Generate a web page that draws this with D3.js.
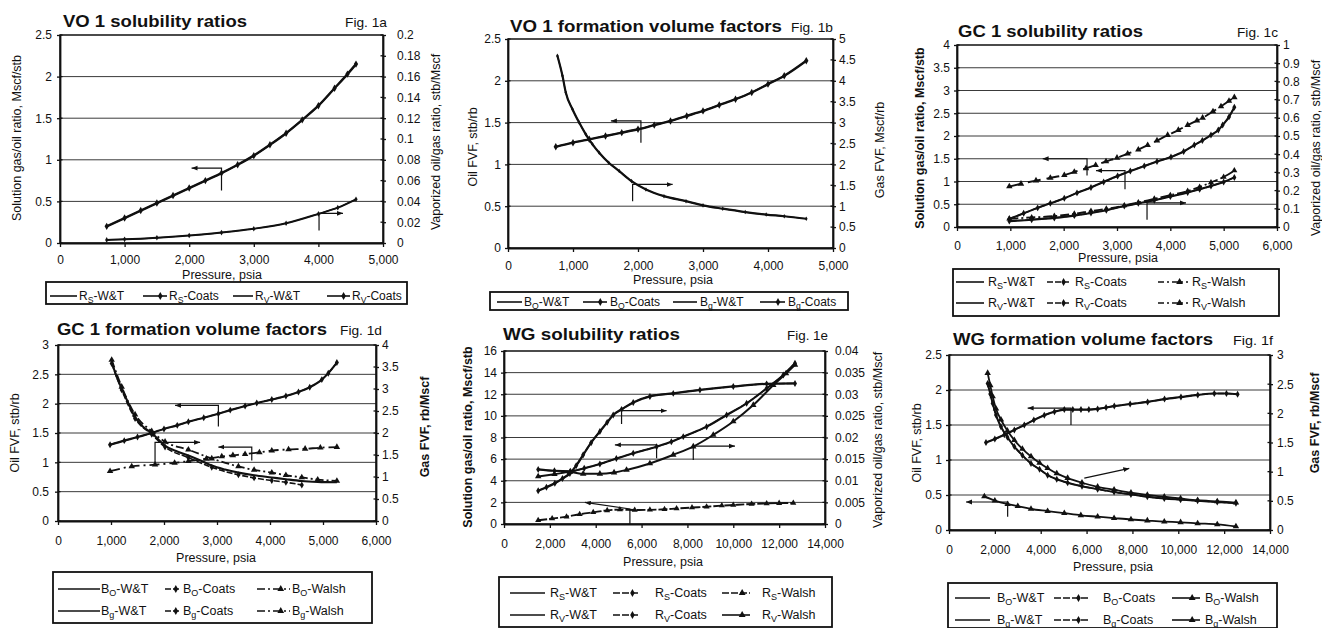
<!DOCTYPE html>
<html><head><meta charset="utf-8">
<script src="https://cdn.jsdelivr.net/npm/d3@7"></script>
<style>
body{margin:0;background:#fff}
svg{display:block}
text{font-family:"Liberation Sans",Arial,Helvetica,sans-serif;fill:#111}
</style></head>
<body><svg id="c" width="1322" height="628"></svg>
<script>
// ---------------- tick values ----------------
const xt5000 = [0,1000,2000,3000,4000,5000];
const xt6000 = [0,1000,2000,3000,4000,5000,6000];
const xt14000 = [0,2000,4000,6000,8000,10000,12000,14000];
const yt25 = [0,0.5,1,1.5,2,2.5];
const yt4 = [0,0.5,1,1.5,2,2.5,3,3.5,4];
const yt3 = [0,0.5,1,1.5,2,2.5,3];
const yt16 = [0,2,4,6,8,10,12,14,16];
const rt02 = [0,0.02,0.04,0.06,0.08,0.1,0.12,0.14,0.16,0.18,0.2];
const rt5 = [0,0.5,1,1.5,2,2.5,3,3.5,4,4.5,5];
const rt1 = [0,0.1,0.2,0.3,0.4,0.5,0.6,0.7,0.8,0.9,1];
const rt4 = [0,0.5,1,1.5,2,2.5,3,3.5,4];
const rt004 = [0,0.005,0.01,0.015,0.02,0.025,0.03,0.035,0.04];
const rt3 = [0,0.5,1,1.5,2,2.5,3];

// ---------------- Fig 1a: VO 1 solubility ratios ----------------
const a_P_Rs = [723,1000,1250,1500,1750,2000,2250,2500,2750,3000,3250,3500,3750,4000,4250,4450,4582];
const a_Rs   = [0.20,0.30,0.39,0.48,0.57,0.66,0.75,0.84,0.94,1.05,1.18,1.32,1.48,1.65,1.86,2.03,2.15];
const a_P_Rv = [723,1000,1500,2000,2500,3000,3500,4000,4300,4582];
const a_Rv   = [0.0030,0.0035,0.0050,0.0072,0.0100,0.0137,0.0190,0.0280,0.0340,0.0420];
const a_arrows = [[[2500,0.63],[2500,0.90],[2036,0.90]],[[4010,0.15],[4010,0.357],[4381,0.357]]];

// ---------------- Fig 1b: VO 1 formation volume factors ----------------
const b_P_Bo = [735,1000,1250,1500,1750,2000,2250,2500,2750,3000,3250,3500,3750,4000,4250,4589];
const b_Bo   = [1.21,1.26,1.30,1.34,1.38,1.42,1.47,1.52,1.58,1.64,1.71,1.78,1.86,1.96,2.06,2.24];
const b_P_Bg = [760,838,889,992,1095,1197,1300,1403,1550,1711,1900,2122,2400,2739,3000,3304,3650,3972,4250,4589];
const b_Bg   = [4.60,4.12,3.72,3.32,3.00,2.72,2.48,2.28,2.04,1.84,1.60,1.40,1.24,1.12,1.02,0.94,0.86,0.80,0.76,0.70];
const b_arrows = [[[2045,1.26],[2045,1.52],[1583,1.52]],[[1917,0.56],[1917,0.76],[2533,0.76]]];

// ---------------- Fig 1c: GC 1 solubility ratios ----------------
const c_P_RsWalsh = [981,1200,1481,1750,2012,2200,2419,2600,2794,3000,3200,3400,3575,3750,3950,4150,4325,4500,4606,4800,4950,5100,5200];
const c_RsWalsh   = [0.89,0.95,1.02,1.08,1.14,1.21,1.29,1.36,1.44,1.52,1.61,1.70,1.80,1.90,2.02,2.13,2.24,2.34,2.40,2.54,2.65,2.77,2.85];
const c_P_Rs = [981,1250,1512,1750,2012,2250,2512,2750,3012,3250,3512,3750,4012,4250,4450,4600,4762,4900,4981,5100,5200];
const c_Rs   = [0.18,0.30,0.42,0.52,0.63,0.75,0.87,0.99,1.12,1.23,1.34,1.44,1.54,1.66,1.80,1.90,2.02,2.13,2.24,2.42,2.63];
const c_P_Rv = [981,1400,1825,2200,2512,2800,3137,3400,3700,4000,4325,4550,4762,5000,5200];
const c_RvWalsh = [0.045,0.0525,0.06,0.0725,0.0875,0.10,0.1175,0.135,0.155,0.175,0.1975,0.22,0.245,0.275,0.31];
const c_Rv      = [0.0325,0.04,0.05,0.0625,0.0775,0.0925,0.115,0.13,0.1475,0.1675,0.19,0.2075,0.225,0.2475,0.2725];
const c_arrows = [[[2438,1.13],[2438,1.50],[1606,1.50]],[[3150,0.83],[3150,1.24],[2606,1.24]],[[3563,0.16],[3563,0.53],[4294,0.53]]];

// ---------------- Fig 1d: GC 1 formation volume factors ----------------
const d_P_Bo = [982,1250,1500,1768,2000,2250,2460,2750,3026,3250,3530,3750,4034,4300,4537,4750,4978,5100,5262];
const d_Bo   = [1.30,1.37,1.43,1.50,1.57,1.63,1.69,1.76,1.83,1.89,1.96,2.01,2.07,2.13,2.20,2.28,2.41,2.52,2.70];
const d_P_BoWalsh = [982,1391,1831,2200,2460,2800,3090,3300,3530,3800,4034,4350,4663,4950,5262];
const d_BoWalsh   = [0.85,0.93,0.96,0.99,1.02,1.06,1.10,1.12,1.14,1.17,1.20,1.22,1.23,1.25,1.26];
const d_P_Bg = [1013,1100,1202,1300,1454,1600,1768,2020,2250,2460,2700,2901,3150,3404,3700,4034,4300,4600,4900,5262];
const d_Bg   = [3.62,3.30,3.01,2.75,2.36,2.15,2.00,1.71,1.58,1.49,1.37,1.26,1.17,1.10,1.04,0.99,0.95,0.91,0.89,0.88];
const d_P_BgCoats = [1013,1202,1454,1768,2020,2460,2901,3404,3700,4034,4300,4600];
const d_BgCoats   = [3.58,2.98,2.33,1.97,1.68,1.44,1.22,1.05,0.98,0.92,0.88,0.82];
const d_P_BgWalsh = [1013,1202,1454,1768,2020,2460,2901,3404,3700,4034,4300,4600,4900,5262];
const d_BgWalsh   = [3.66,3.05,2.42,2.04,1.80,1.62,1.42,1.24,1.16,1.10,1.04,0.99,0.94,0.91];
const d_arrows = [[[3026,1.61],[3026,1.97],[2209,1.97]],[[1831,1.0],[1831,1.34],[2681,1.34]],[[3656,1.03],[3656,1.26],[3026,1.26]]];

// ---------------- Fig 1e: WG solubility ratios ----------------
const e_P_Rs = [1491,2200,2900,3500,4182,4900,5636,6655,7300,7818,8836,9709,10582,11455,12182,12691];
const e_Rs   = [5.05,4.92,4.88,5.15,5.55,6.05,6.54,7.15,7.60,8.08,9.00,10.08,11.16,12.55,13.78,14.86];
const e_P_RsWalsh = [1491,2100,2727,3300,3891,4500,5055,5700,6364,7000,7527,8200,8836,9500,10000,10800,11455,12000,12618];
const e_RsWalsh   = [0.35,0.50,0.68,0.90,1.08,1.26,1.33,1.30,1.31,1.36,1.43,1.52,1.60,1.70,1.76,1.85,1.90,1.93,1.95];
const e_P_Rv = [1491,1850,2218,2550,2873,3150,3455,3800,4182,4500,4764,5127,5636,6364,7382,8545,10000,11455,12691];
const e_Rv   = [0.0077,0.0085,0.0094,0.0105,0.0117,0.0135,0.0160,0.0188,0.0214,0.0235,0.0252,0.0265,0.0281,0.0295,0.0302,0.0310,0.0318,0.0324,0.0325];
const e_P_RvWalsh = [1491,2200,2873,3455,4182,4800,5345,6364,7382,8255,9127,10000,10873,11745,12300,12691];
const e_RvWalsh   = [0.0110,0.0115,0.0120,0.0116,0.0116,0.0119,0.0125,0.0140,0.0160,0.0179,0.0206,0.0237,0.0275,0.0321,0.0348,0.0368];
const e_arrows = [[[5127,9.25],[5127,10.48],[7091,10.48]],[[6655,6.07],[6655,7.31],[4836,7.31]],[[8255,5.92],[8255,7.21],[10073,7.21]],[[5491,0],[5491,1.39],[3527,2.0]]];

// ---------------- Fig 1f: WG formation volume factors ----------------
const f_P_Bo = [1613,2000,2413,2850,3285,3700,4157,4600,5029,5400,5756,6100,6483,6850,7209,7900,8663,9400,10116,10850,11570,12100,12587];
const f_Bo   = [1.25,1.30,1.36,1.43,1.50,1.57,1.64,1.69,1.72,1.72,1.72,1.72,1.73,1.75,1.77,1.80,1.83,1.87,1.90,1.93,1.95,1.95,1.94];
const f_P_BoWalsh = [1541,2000,2558,3000,3576,4300,5029,5750,6483,7200,7936,8650,9390,10100,10843,11700,12514];
const f_BoWalsh   = [0.48,0.42,0.37,0.34,0.30,0.27,0.24,0.21,0.19,0.17,0.15,0.135,0.12,0.11,0.095,0.08,0.05];
const f_P_Bg = [1686,1800,1904,2050,2267,2550,2849,3200,3576,3950,4302,4700,5174,5800,6483,7200,7936,8650,9390,10100,10843,11700,12514];
const f_BgWalsh = [2.69,2.48,2.29,2.08,1.89,1.70,1.54,1.39,1.26,1.15,1.06,0.97,0.89,0.81,0.74,0.69,0.64,0.60,0.57,0.54,0.51,0.49,0.47];
const f_Bg      = [2.51,2.33,2.17,1.97,1.77,1.59,1.43,1.28,1.14,1.04,0.94,0.87,0.81,0.75,0.70,0.65,0.61,0.57,0.54,0.52,0.50,0.48,0.46];
const f_arrows = [[[5320,1.50],[5320,1.74],[3430,1.74]],[[5901,0.74],[7863,0.88]],[[2558,0.19],[2558,0.40],[741,0.40]]];

// ---------------- panel layout ----------------
const panels = [
 {title:'VO 1 solubility ratios', tx:63, ty:27, tw:184, fig:'Fig. 1a', fx:345, fy:27, fw:42,
  L:60,R:383,T:35,B:243, xMax:5000, xT:xt5000, yLMax:2.5, yLT:yt25, yRMax:0.2, yRT:rt02, xPad:8, lPad:5, rPad:11,
  xTitle:[222,279], lTitle:['Solution gas/oil ratio, Mscf/stb',17,138,false], rTitle:['Vaporized oil/gas ratio, stb/Mscf',436,142,false],
  series:[
   {p:a_P_Rs,v:a_Rs,ax:'L',w:2.4},
   {p:a_P_Rs,v:a_Rs,ax:'L',w:1.4,mk:'dia',ms:16},
   {p:a_P_Rv,v:a_Rv,ax:'R',w:2.0},
   {p:a_P_Rv,v:a_Rv,ax:'R',w:1.2,mk:'dia',ms:9}],
  arrows:a_arrows,
  box:[46,282,407,304], rows:[296], lfs:12,
  leg:[[50,77,79,0,'R','S','-W&T',null,null],[143,167,169,0,'R','S','-Coats',null,'dia'],
       [233,253,255,0,'R','V','-W&T',null,null],[327,350,352,0,'R','V','-Coats',null,'dia']]},
 {title:'VO 1 formation volume factors', tx:510, ty:32, tw:272, fig:'Fig. 1b', fx:791, fy:32, fw:42,
  L:508,R:833,T:39,B:248, xMax:5000, xT:xt5000, yLMax:2.5, yLT:yt25, yRMax:5, yRT:rt5, xPad:9, lPad:4, rPad:3,
  xTitle:[673,284], lTitle:['Oil FVF, stb/rb',473,147,false], rTitle:['Gas FVF, Mscf/rb',880,150,false],
  series:[
   {p:b_P_Bo,v:b_Bo,ax:'L',w:2.4},
   {p:b_P_Bo,v:b_Bo,ax:'L',w:1.4,mk:'dia',ms:16},
   {p:b_P_Bg,v:b_Bg,ax:'R',w:2.2},
   {p:b_P_Bg,v:b_Bg,ax:'R',w:1.2,mk:'dia',ms:6}],
  arrows:b_arrows,
  box:[490,292,848,310], rows:[302], lfs:12,
  leg:[[497,522,524,0,'B','O','-W&T',null,null],[583,607,610,0,'B','O','-Coats',null,'dia'],
       [673,697,700,0,'B','g','-W&T',null,null],[760,785,788,0,'B','g','-Coats',null,'dia']]},
 {title:'GC 1 solubility ratios', tx:958, ty:37, tw:185, fig:'Fig. 1c', fx:1237, fy:37, fw:41,
  L:957,R:1277,T:45,B:227, xMax:6000, xT:xt6000, yLMax:4, yLT:yt4, yRMax:1, yRT:rt1, xPad:10, lPad:4, rPad:3,
  xTitle:[1118,262], lTitle:['Solution gas/oil ratio, Mscf/stb',920,138,true], rTitle:['Vaporized oil/gas ratio, stb/Mscf',1316,148,false],
  series:[
   {p:c_P_RsWalsh,v:c_RsWalsh,ax:'L',w:1.9,dash:'13,6',mk:'tri',ms:18},
   {p:c_P_Rs,v:c_Rs,ax:'L',w:2.1},
   {p:c_P_Rs,v:c_Rs,ax:'L',w:1.4,dash:'6,2',mk:'dia',ms:14},
   {p:c_P_Rv,v:c_RvWalsh,ax:'R',w:1.8,dash:'9,3,2,3',mk:'tri',ms:16},
   {p:c_P_Rv,v:c_Rv,ax:'R',w:2.1},
   {p:c_P_Rv,v:c_Rv,ax:'R',w:1.4,dash:'6,2',mk:'dia',ms:14}],
  arrows:c_arrows,
  box:[953,269,1279,316], rows:[282,303], lfs:12.5,
  leg:[[956,984,988,0,'R','S','-W&T',null,null],[1047,1070,1075,0,'R','S','-Coats','6,2','dia'],[1158,1188,1192,0,'R','S','-Walsh','6,3,2,3','tri'],
       [956,984,988,1,'R','V','-W&T',null,null],[1047,1070,1075,1,'R','V','-Coats','6,2','dia'],[1158,1188,1192,1,'R','V','-Walsh','6,3,2,3','tri']]},
 {title:'GC 1 formation volume factors', tx:57, ty:335, tw:270, fig:'Fig. 1d', fx:340, fy:335, fw:42,
  L:58,R:376,T:345,B:521, xMax:6000, xT:xt6000, yLMax:3, yLT:yt3, yRMax:4, yRT:rt4, xPad:11, lPad:6, rPad:3,
  xTitle:[216,562], lTitle:['Oil FVF, stb/rb',15,433,false], rTitle:['Gas FVF, rb/Mscf',425,427,true],
  series:[
   {p:d_P_Bo,v:d_Bo,ax:'L',w:2.1},
   {p:d_P_Bo,v:d_Bo,ax:'L',w:1.4,dash:'6,2',mk:'dia',ms:14},
   {p:d_P_BoWalsh,v:d_BoWalsh,ax:'L',w:1.8,dash:'10,4,2,4',mk:'tri',ms:18},
   {p:d_P_Bg,v:d_Bg,ax:'R',w:2.1},
   {p:d_P_BgCoats,v:d_BgCoats,ax:'R',w:1.6,dash:'6,2',mk:'dia',ms:14},
   {p:d_P_BgWalsh,v:d_BgWalsh,ax:'R',w:1.8,dash:'8,3,2,3',mk:'tri',ms:18}],
  arrows:d_arrows,
  box:[53,572,372,623], rows:[589,611], lfs:12.5,
  leg:[[58,100,101,0,'B','O','-W&T',null,null],[165,180,183,0,'B','O','-Coats','6,2','dia'],[257,290,292,0,'B','O','-Walsh','8,3,2,3','tri'],
       [58,100,101,1,'B','g','-W&T',null,null],[165,180,183,1,'B','g','-Coats','6,2','dia'],[257,290,292,1,'B','g','-Walsh','8,3,2,3','tri']]},
 {title:'WG solubility ratios', tx:503, ty:340, tw:177, fig:'Fig. 1e', fx:787, fy:340, fw:41,
  L:504,R:825,T:351,B:524, xMax:14000, xT:xt14000, yLMax:16, yLT:yt16, yRMax:0.04, yRT:rt004, xPad:11, lPad:4, rPad:7,
  xTitle:[663,566], lTitle:['Solution gas/oil ratio, Mscf/stb',468,437,true], rTitle:['Vaporized oil/gas ratio, stb/Mscf',878,440,false],
  series:[
   {p:e_P_Rs,v:e_Rs,ax:'L',w:2.1},
   {p:e_P_Rs,v:e_Rs,ax:'L',w:1.4,dash:'6,2',mk:'dia',ms:14},
   {p:e_P_RsWalsh,v:e_RsWalsh,ax:'L',w:1.9,dash:'9,2',mk:'tri',ms:16},
   {p:e_P_Rv,v:e_Rv,ax:'R',w:2.3},
   {p:e_P_Rv,v:e_Rv,ax:'R',w:1.4,dash:'6,2',mk:'dia',ms:14},
   {p:e_P_RvWalsh,v:e_RvWalsh,ax:'R',w:2.0,mk:'tri',ms:18}],
  arrows:e_arrows,
  box:[499,577,832,627], rows:[593,615], lfs:12.5,
  leg:[[510,545,550,0,'R','S','-W&T',null,null],[613,640,655,0,'R','S','-Coats','7,2','dia'],[722,750,762,0,'R','S','-Walsh','7,2','tri'],
       [510,545,550,1,'R','V','-W&T',null,null],[613,640,655,1,'R','V','-Coats','7,2','dia'],[722,750,762,1,'R','V','-Walsh',null,'tri']]},
 {title:'WG formation volume factors', tx:953, ty:345, tw:260, fig:'Fig. 1f', fx:1233, fy:345, fw:40,
  L:949,R:1270,T:355,B:530, xMax:14000, xT:xt14000, yLMax:2.5, yLT:yt25, yRMax:3, yRT:rt3, xPad:11, lPad:4, rPad:4,
  xTitle:[1113,571], lTitle:['Oil FVF, stb/rb',917,443,false], rTitle:['Gas FVF, rb/Mscf',1315,423,true],
  series:[
   {p:f_P_Bo,v:f_Bo,ax:'L',w:2.1},
   {p:f_P_Bo,v:f_Bo,ax:'L',w:1.4,dash:'6,2',mk:'dia',ms:14},
   {p:f_P_BoWalsh,v:f_BoWalsh,ax:'L',w:1.8,mk:'tri',ms:18},
   {p:f_P_Bg,v:f_Bg,ax:'R',w:1.9},
   {p:f_P_Bg,v:f_Bg,ax:'R',w:1.4,dash:'6,2',mk:'dia',ms:14},
   {p:f_P_Bg,v:f_BgWalsh,ax:'R',w:1.8,mk:'tri',ms:18}],
  arrows:f_arrows,
  box:[948,583,1277,628], rows:[598,620], lfs:12.5,
  leg:[[955,990,997,0,'B','O','-W&T',null,null],[1054,1088,1103,0,'B','O','-Coats','7,2','dia'],[1172,1200,1205,0,'B','O','-Walsh',null,'tri'],
       [955,990,997,1,'B','g','-W&T',null,null],[1054,1088,1103,1,'B','g','-Coats','7,2','dia'],[1172,1200,1205,1,'B','g','-Walsh',null,'tri']]}
];

// ---------------- drawing ----------------
const svg = d3.select('#c');
svg.append('rect').attr('width',1322).attr('height',628).attr('fill','#fff');
const defs = svg.append('defs');
defs.append('marker').attr('id','ah').attr('viewBox','0 0 10 10').attr('refX',10).attr('refY',5)
  .attr('markerWidth',6).attr('markerHeight',6).attr('markerUnits','userSpaceOnUse').attr('orient','auto')
  .append('path').attr('d','M0,1 L10,5 L0,9 Z').attr('fill','#111');

const symType = {dia:d3.symbolDiamond, tri:d3.symbolTriangle};
const TICK_FS = 12;

panels.forEach(P => {
  const g = svg.append('g');
  const x = d3.scaleLinear().domain([0,P.xMax]).range([P.L,P.R]);
  const yL = d3.scaleLinear().domain([0,P.yLMax]).range([P.B,P.T]);
  const yR = d3.scaleLinear().domain([0,P.yRMax]).range([P.B,P.T]);

  g.selectAll('line.grid').data(P.yLT.filter(v => v>0 && v<P.yLMax)).join('line')
    .attr('x1',P.L).attr('x2',P.R).attr('y1',d=>yL(d)).attr('y2',d=>yL(d))
    .attr('stroke','#3a3a3a').attr('stroke-width',1);
  g.append('rect').attr('x',P.L).attr('y',P.T).attr('width',P.R-P.L).attr('height',P.B-P.T)
    .attr('fill','none').attr('stroke','#111').attr('stroke-width',1.5);

  const styleAxis = a => {
    a.select('.domain').attr('stroke','#111').attr('stroke-width',1.8);
    a.selectAll('.tick line').attr('stroke','#111').attr('stroke-width',1.3);
    a.selectAll('.tick text').attr('font-size',TICK_FS).attr('fill','#111')
      .attr('font-family','"Liberation Sans",Arial,sans-serif');
  };
  const fmt = d => String(d);
  styleAxis(g.append('g').attr('transform',`translate(0,${P.B})`)
    .call(d3.axisBottom(x).tickValues(P.xT).tickFormat(d3.format(',')).tickSizeInner(4).tickSizeOuter(0).tickPadding(P.xPad)));
  styleAxis(g.append('g').attr('transform',`translate(${P.L},0)`)
    .call(d3.axisLeft(yL).tickValues(P.yLT).tickFormat(fmt).tickSizeInner(3).tickSizeOuter(0).tickPadding(P.lPad)));
  styleAxis(g.append('g').attr('transform',`translate(${P.R},0)`)
    .call(d3.axisRight(yR).tickValues(P.yRT).tickFormat(fmt).tickSizeInner(3).tickSizeOuter(0).tickPadding(P.rPad)));
  g.selectAll('line.il').data(P.yLT).join('line').attr('x1',P.L).attr('x2',P.L+2.5)
    .attr('y1',d=>yL(d)).attr('y2',d=>yL(d)).attr('stroke','#111').attr('stroke-width',1.3);
  g.selectAll('line.ir').data(P.yRT).join('line').attr('x1',P.R-2.5).attr('x2',P.R)
    .attr('y1',d=>yR(d)).attr('y2',d=>yR(d)).attr('stroke','#111').attr('stroke-width',1.3);

  P.series.forEach(s => {
    const yy = s.ax==='L' ? yL : yR;
    const pts = d3.zip(s.p, s.v);
    const line = d3.line().x(d=>x(d[0])).y(d=>yy(d[1])).curve(d3.curveMonotoneX);
    const path = g.append('path').attr('d',line(pts)).attr('fill','none')
      .attr('stroke','#111').attr('stroke-width',s.w).attr('stroke-linejoin','round');
    if (s.dash) path.attr('stroke-dasharray',s.dash);
    if (s.mk) {
      const sym = d3.symbol().type(symType[s.mk]).size(s.ms);
      g.selectAll(null).data(pts).join('path').attr('d',sym())
        .attr('transform',d=>`translate(${x(d[0])},${yy(d[1])})`).attr('fill','#111');
    }
  });

  P.arrows.forEach(a => {
    const ln = d3.line().x(d=>x(d[0])).y(d=>yL(d[1]));
    g.append('path').attr('d',ln(a)).attr('fill','none').attr('stroke','#111')
      .attr('stroke-width',1.2).attr('marker-end','url(#ah)');
  });

  g.append('text').attr('x',P.tx).attr('y',P.ty).attr('font-size',17).attr('font-weight','bold')
    .attr('textLength',P.tw).attr('lengthAdjust','spacingAndGlyphs').text(P.title);
  g.append('text').attr('x',P.fx).attr('y',P.fy).attr('font-size',13.5)
    .attr('textLength',P.fw).attr('lengthAdjust','spacingAndGlyphs').text(P.fig);
  g.append('text').attr('x',P.xTitle[0]).attr('y',P.xTitle[1]).attr('font-size',12.5)
    .attr('text-anchor','middle').text('Pressure, psia');
  [P.lTitle,P.rTitle].forEach(t => {
    g.append('text').attr('transform',`translate(${t[1]},${t[2]}) rotate(-90)`)
      .attr('text-anchor','middle').attr('dominant-baseline','central')
      .attr('font-size',12.5).attr('font-weight',t[3]?'bold':'normal').text(t[0]);
  });

  const b = P.box;
  g.append('rect').attr('x',b[0]).attr('y',b[1]).attr('width',b[2]-b[0]).attr('height',b[3]-b[1])
    .attr('fill','#fff').attr('stroke','#111').attr('stroke-width',1.8);
  P.leg.forEach(e => {
    const [x1,x2,tx,row,main,sub,rest,dash,mk] = e;
    const ry = P.rows[row];
    const l = g.append('line').attr('x1',x1).attr('x2',x2).attr('y1',ry).attr('y2',ry)
      .attr('stroke','#111').attr('stroke-width',1.6);
    if (dash) l.attr('stroke-dasharray',dash);
    if (mk) g.append('path').attr('d',d3.symbol().type(symType[mk]).size(mk==='tri'?20:18)())
      .attr('transform',`translate(${x1+(x2-x1)*0.72},${ry})`).attr('fill','#111');
    const t = g.append('text').attr('x',tx).attr('y',ry+4.3).attr('font-size',P.lfs);
    t.append('tspan').text(main);
    t.append('tspan').attr('font-size',P.lfs*0.72).attr('dy',2.8).text(sub);
    t.append('tspan').attr('dy',-2.8).text(rest);
  });
});
</script>
</body></html>
